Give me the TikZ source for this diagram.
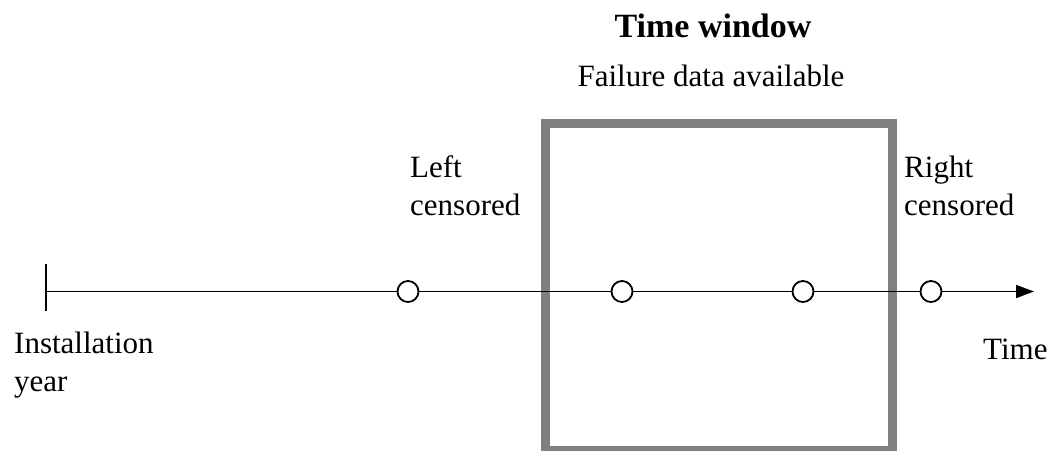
\documentclass[tikz,border=0pt]{standalone}
\usepackage{fontspec}
\setmainfont{Liberation Serif}
\usetikzlibrary{arrows.meta}

\begin{document}
\begin{tikzpicture}[x=1pt,y=-1pt,
  label text/.style={inner sep=0pt, anchor=base west, align=left,
    font=\fontsize{31}{38}\selectfont},
  event/.style={circle, draw=black, fill=white, line width=1.8pt,
    minimum size=21pt, inner sep=0pt},
  window/.style={draw=gray, line width=9pt},
  axis/.style={draw=black, line width=1.8pt}
]
  \useasboundingbox (0,0) rectangle (1051,450);
  \clip (0,0) rectangle (1051,450);

  % observation window
  \draw[window] (545,123.5) rectangle (892,450);
  \node[font=\fontsize{34}{40}\selectfont\bfseries, inner sep=0pt, anchor=base]
    (title) at (713,37) {Time window};
  \node[font=\fontsize{31}{38}\selectfont, inner sep=0pt, anchor=base]
    (avail) at (711,86) {Failure data available};

  % time axis
  \coordinate (t0) at (46,291.5);
  \coordinate (tend) at (1034,291.5);
  \coordinate (tickTop) at (46,263.5);
  \coordinate (tickBot) at (46,311);
  \draw[axis] (tickTop) -- (tickBot);
  \draw[axis, -{Triangle[length=18pt,width=13pt]}] (t0) -- (tend);

  % failure events
  \node[event] (e1) at (408,291.5) {};
  \node[event] (e2) at (622,291.5) {};
  \node[event] (e3) at (803,291.5) {};
  \node[event] (e4) at (931,291.5) {};

  % labels (anchored at the baseline of their last line)
  \node[label text] (left) at (410,215) {Left\\censored};
  \node[label text] (right) at (904,215) {Right\\censored};
  \node[label text] (inst) at (14,391) {Installation\\year};
  \node[label text] (time) at (983,359) {Time};
\end{tikzpicture}
\end{document}
